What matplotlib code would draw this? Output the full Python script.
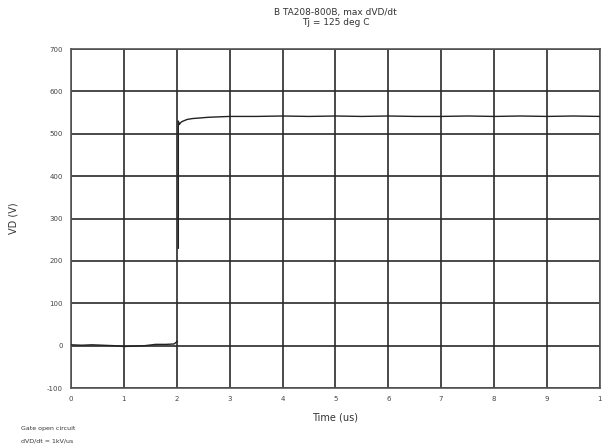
#!/usr/bin/env python3
import numpy as np
import matplotlib
matplotlib.use('Agg')
import matplotlib.pyplot as plt

plt.rcParams['axes.unicode_minus'] = False

## Scope trace, VD against time
time_us = [0.0, 0.2, 0.4, 0.6, 0.8, 1.0, 1.2, 1.4, 1.6, 1.8, 1.95, 2.01,
           np.nan,
           2.03, 2.03, 2.05, 2.07, 2.09, 2.12, 2.16, 2.2, 2.3, 2.4, 2.5, 2.6,
           2.8, 3.0, 3.5, 4.0, 4.5, 5.0, 5.5, 6.0, 6.5, 7.0, 7.5, 8.0, 8.5,
           9.0, 9.5, 10.0]
vd_volts = [2, 1, 2, 1, 0, -2, -1, 0, 3, 3, 4, 10,
            np.nan,
            230, 530, 522, 526, 528, 530, 532, 534, 536, 537, 538, 539,
            540, 541, 541, 542, 541, 542, 541, 542, 541, 541, 542, 541, 542,
            541, 542, 541]

x_ticks = [0, 1, 2, 3, 4, 5, 6, 7, 8, 9, 10]
y_ticks = [-100, 0, 100, 200, 300, 400, 500, 600, 700]

fig = plt.figure(figsize=(6.03, 4.46), dpi=100)
ax = fig.add_axes([0.1177, 0.130, 0.877, 0.760])

ax.plot(time_us, vd_volts, color='#222222', lw=1.0, zorder=3)

ax.set_xlim(0, 10)
ax.set_ylim(-100, 700)
ax.set_xticks(x_ticks)
ax.set_yticks(y_ticks)
ax.set_xticklabels(['0', '1', '2', '3', '4', '5', '6', '7', '8', '9', '1'])
ax.tick_params(length=0, labelsize=5, colors='#444444', pad=6)
ax.grid(True, color='#2a2a2a', lw=1.2)
for s in ax.spines.values():
    s.set_color('#555555')
    s.set_linewidth(1.2)

ax.set_xlabel('Time (us)', fontsize=7, color='#333333', labelpad=7)
ax.set_ylabel('VD (V)', fontsize=7, color='#333333', labelpad=20)
ax.set_title('B TA208-800B, max dVD/dt\nTj = 125 deg C', fontsize=6.5,
             color='#333333', linespacing=1.2, pad=17)

fig.text(0.035, 0.035, 'Gate open circuit', fontsize=4.5, color='#333333')
fig.text(0.035, 0.008, 'dVD/dt = 1kV/us', fontsize=4.5, color='#333333')

fig.savefig('out.png', dpi=100)
